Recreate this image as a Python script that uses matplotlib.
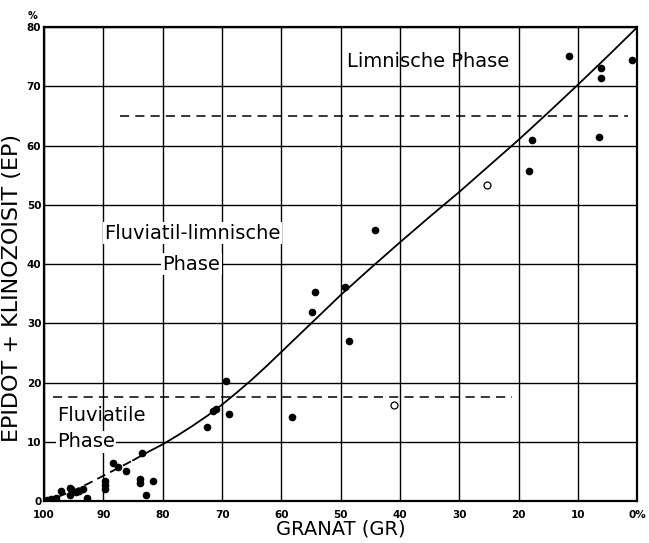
import matplotlib.pyplot as plt

# data
filled_gr = [99.5, 98.8, 98.0, 97.2, 95.6, 95.4, 95.6, 94.7, 94.2, 93.5, 92.8,
             89.7, 89.7, 89.7, 88.4, 87.6, 86.2, 83.5, 83.9, 83.9, 81.6, 82.8,
             72.6, 71.5, 71.0, 69.3, 68.9, 58.2, 54.9, 54.4, 49.2, 48.6, 44.3,
             18.2, 17.8, 11.6, 6.5, 6.2, 6.2, 0.9]
filled_ep = [0.2, 0.3, 0.6, 1.7, 2.3, 2.0, 1.1, 1.6, 1.7, 2.0, 0.5,
             3.4, 2.7, 2.0, 6.4, 5.8, 5.1, 8.1, 3.7, 3.1, 3.4, 1.0,
             12.5, 15.2, 15.5, 20.3, 14.7, 14.2, 31.9, 35.3, 36.1, 27.1, 45.7,
             55.8, 61.0, 75.2, 61.5, 73.1, 71.5, 74.4]
open_gr = [41.1, 25.3]
open_ep = [16.2, 53.4]

curve_gr = [100, 97.5, 95, 92.5, 90, 87.5, 85, 82.5, 80, 77.5, 75, 72.5, 70, 67.5, 65, 62.5, 60,
            57.5, 55, 52.5, 50, 45, 40, 35, 30, 25, 20, 15, 10, 5, 0]
curve_ep = [0, 0.8, 1.8, 3.0, 4.3, 5.6, 6.9, 8.3, 9.6, 11.1, 12.7, 14.4, 16.3, 18.35, 20.5, 22.8, 25.2,
            27.6, 30.0, 32.4, 34.8, 39.3, 43.7, 48.0, 52.2, 56.6, 61.0, 65.6, 70.3, 75.1, 80]

x_ticks = [100, 90, 80, 70, 60, 50, 40, 30, 20, 10, 0]
x_labels = ['100', '90', '80', '70', '60', '50', '40', '30', '20', '10', '0%']
y_ticks = [0, 10, 20, 30, 40, 50, 60, 70, 80]

fig = plt.figure( figsize = ( 6.49, 5.43 ), dpi = 100 )
ax = fig.add_axes( [ 0.068, 0.077, 0.914, 0.873 ] )

for v in x_ticks:
    ax.axvline( v, color = 'black', lw = 1.0, zorder = 1 )
for v in y_ticks:
    ax.axhline( v, color = 'black', lw = 1.0, zorder = 1 )

# phase boundaries
ax.plot( [ 87.2, 1.5 ], [ 65, 65 ], color = 'black', lw = 1.1, ls = ( 0, ( 6, 4 ) ), zorder = 2 )
ax.plot( [ 98.5, 21.1 ], [ 17.5, 17.5 ], color = 'black', lw = 1.1, ls = ( 0, ( 6, 4 ) ), zorder = 2 )

# fitted curve, dashed at the low end
n = curve_gr.index( 85 )
ax.plot( curve_gr[ :n + 1 ], curve_ep[ :n + 1 ], color = 'black', lw = 1.3, ls = ( 0, ( 5, 3 ) ), zorder = 3 )
ax.plot( curve_gr[ n: ], curve_ep[ n: ], color = 'black', lw = 1.3, zorder = 3 )

ax.plot( filled_gr, filled_ep, 'o', color = 'black', ms = 4.5, zorder = 4 )
ax.plot( open_gr, open_ep, 'o', mfc = 'white', mec = 'black', mew = 0.9, ms = 5, zorder = 4 )

bg = dict( facecolor = 'white', edgecolor = 'none', pad = 1 )
ax.text( 48.9, 74.2, 'Limnische Phase', fontsize = 14, ha = 'left', va = 'center', zorder = 5 )
ax.text( 75.0, 45.2, 'Fluviatil-limnische', fontsize = 14, ha = 'center', va = 'center', bbox = bg, zorder = 5 )
ax.text( 75.2, 40.0, 'Phase', fontsize = 14, ha = 'center', va = 'center', bbox = bg, zorder = 5 )
ax.text( 97.8, 14.5, 'Fluviatile', fontsize = 14, ha = 'left', va = 'center', zorder = 5 )
ax.text( 97.8, 10.0, 'Phase', fontsize = 14, ha = 'left', va = 'center', bbox = bg, zorder = 5 )

ax.set_xlim( 100, 0 )
ax.set_ylim( 0, 80 )
ax.set_xticks( x_ticks )
ax.set_xticklabels( x_labels, fontsize = 7.5, fontweight = 'bold' )
ax.set_yticks( y_ticks )
ax.set_yticklabels( [ str( v ) for v in y_ticks ], fontsize = 7.5, fontweight = 'bold' )
ax.tick_params( axis = 'x', length = 0, pad = 6 )
ax.tick_params( axis = 'y', length = 0, pad = 2 )
ax.text( -0.012, 1.012, '%', transform = ax.transAxes, fontsize = 7, fontweight = 'bold', ha = 'right', va = 'bottom' )

for s in ax.spines.values():
    s.set_linewidth( 1.6 )

ax.set_xlabel( 'GRANAT (GR)', fontsize = 14, labelpad = 0 )
ax.set_ylabel( 'EPIDOT + KLINOZOISIT (EP)', fontsize = 16, va = 'center' )
ax.yaxis.set_label_coords( -0.054, 0.45 )

fig.savefig( 'out.png', dpi = 100 )
